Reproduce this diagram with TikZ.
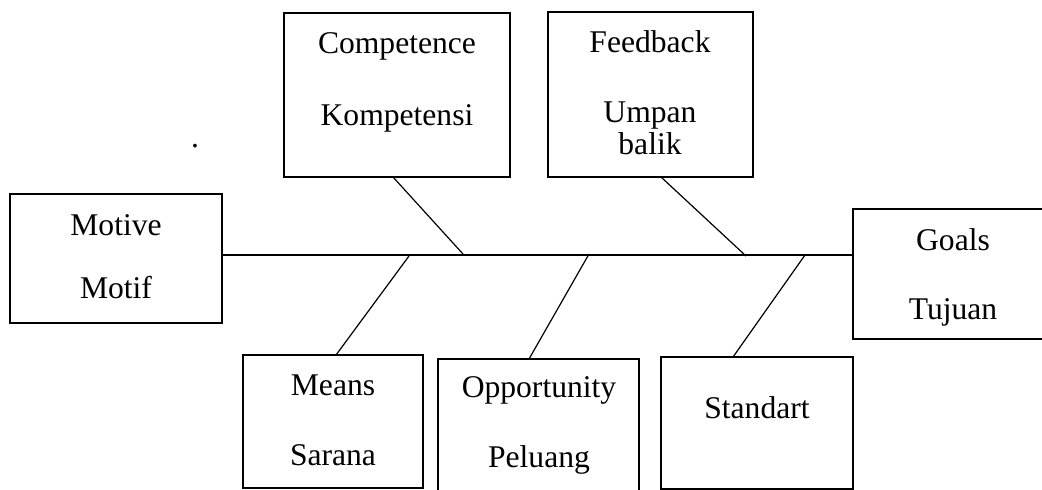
\documentclass[tikz,border=0pt]{standalone}
\usepackage{fontspec}
\setmainfont{Liberation Serif}
\begin{document}
\begin{tikzpicture}[x=0.5pt,y=-0.5pt,
 box/.style={draw, line width=1pt, inner sep=0pt},
 lbl/.style={anchor=base, inner sep=0pt, font=\fontsize{15.8}{19}\selectfont},
 bone/.style={line width=0.6pt}]
\useasboundingbox (0,0) rectangle (1042,489);
\clip (0,0) rectangle (1042,489);
% boxes
\node[box, minimum width=106pt, minimum height=64.5pt] (motive) at (116,258.5) {};
\node[box, minimum width=113pt, minimum height=82pt] (competence) at (397,95) {};
\node[box, minimum width=102.5pt, minimum height=82.5pt] (feedback) at (650.5,94.5) {};
\node[box, minimum width=100pt, minimum height=65pt] (goals) at (953,274) {};
\node[box, minimum width=90pt, minimum height=66.5pt] (means) at (333,421.5) {};
\node[box, minimum width=100.5pt, minimum height=68pt] (opportunity) at (538.5,427) {};
\node[box, minimum width=96pt, minimum height=66pt] (standart) at (757,423) {};
% labels
\node[lbl] (t1) at (116,235) {Motive};
\node[lbl] (t2) at (116,298) {Motif};
\node[lbl] (t3) at (397,53) {Competence};
\node[lbl] (t4) at (397,125) {Kompetensi};
\node[lbl] (t5) at (650,52) {Feedback};
\node[lbl] (t6) at (650,122) {Umpan};
\node[lbl] (t7) at (650,154) {balik};
\node[lbl] (t8) at (953,250) {Goals};
\node[lbl] (t9) at (953,319) {Tujuan};
\node[lbl] (t10) at (333,395) {Means};
\node[lbl] (t11) at (333,465) {Sarana};
\node[lbl] (t12) at (539,397) {Opportunity};
\node[lbl] (t13) at (539,467) {Peluang};
\node[lbl] (t14) at (757,418) {Standart};
\node[lbl] (dot) at (195,147) {.};
% spine
\draw[bone] (motive.east |- 0,255) -- (goals.west |- 0,255);
% bone coordinates
\coordinate (b1a) at (393,177); \coordinate (b1b) at (463,254);
\coordinate (b2a) at (661,177); \coordinate (b2b) at (746,256);
\coordinate (b3a) at (409,256); \coordinate (b3b) at (336,355);
\coordinate (b4a) at (589,254); \coordinate (b4b) at (529,359);
\coordinate (b5a) at (805,255); \coordinate (b5b) at (733,357);
\draw[bone] (b1a) -- (b1b);
\draw[bone] (b2a) -- (b2b);
\draw[bone] (b3a) -- (b3b);
\draw[bone] (b4a) -- (b4b);
\draw[bone] (b5a) -- (b5b);
\end{tikzpicture}
\end{document}
